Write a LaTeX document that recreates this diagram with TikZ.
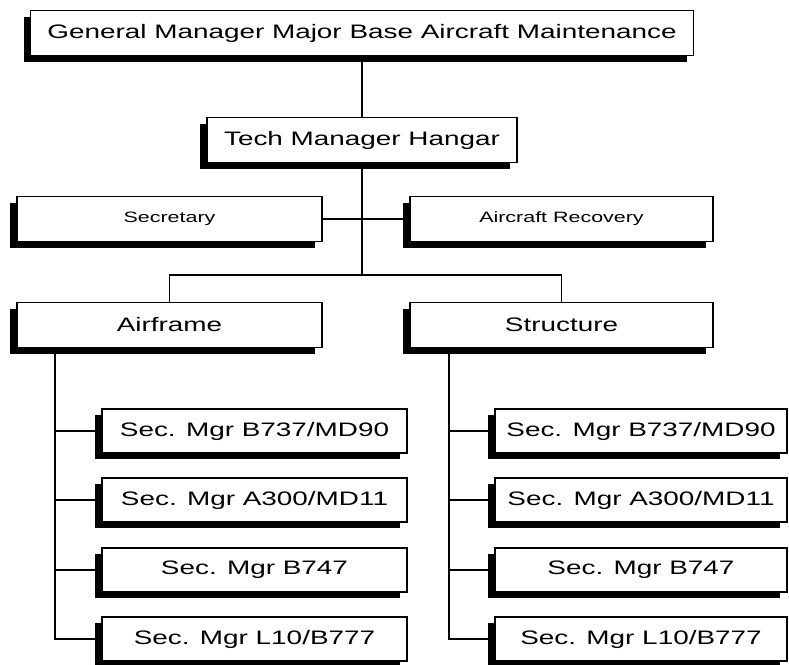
\documentclass[tikz,border=0pt]{standalone}
\usepackage{fontspec}
\setmainfont{Liberation Sans}[FakeStretch=1.43]
\usetikzlibrary{shadows,calc}

\begin{document}
\begin{tikzpicture}[x=1pt,y=-1pt,
  box/.style={draw,fill=white,line width=1.3pt,minimum height=45pt,inner sep=0pt,
    font=\fontsize{19.5}{22}\selectfont,
    drop shadow={shadow xshift=-7pt,shadow yshift=-6pt,opacity=1,fill=black}},
  smallbox/.style={box,font=\fontsize{15}{18}\selectfont},
  secbox/.style={box,minimum height=44pt},
  link/.style={line width=1.2pt}]
\useasboundingbox (0,0) rectangle (789,664);
\node[box,minimum width=663pt] (gm) at (362,33) {General Manager Major Base Aircraft Maintenance};
\node[box,minimum width=310pt] (tech) at (362,140) {Tech Manager Hangar};
\node[smallbox,minimum width=305pt] (sec) at (169.5,219) {Secretary};
\node[smallbox,minimum width=303pt] (rec) at (561.5,219) {Aircraft Recovery};
\node[box,minimum width=305pt] (air) at (169.5,325) {Airframe};
\node[box,minimum width=303pt] (str) at (561.5,325) {Structure};
\node[secbox,minimum width=305pt] (a1) at (254.5,431) {Sec. Mgr B737/MD90};
\node[secbox,minimum width=305pt] (a2) at (254.5,500) {Sec. Mgr A300/MD11};
\node[secbox,minimum width=305pt] (a3) at (254.5,570) {Sec. Mgr B747};
\node[secbox,minimum width=305pt] (a4) at (254.5,639) {Sec. Mgr L10/B777};
\node[secbox,minimum width=292pt] (s1) at (641,431) {Sec. Mgr B737/MD90};
\node[secbox,minimum width=292pt] (s2) at (641,500) {Sec. Mgr A300/MD11};
\node[secbox,minimum width=292pt] (s3) at (641,570) {Sec. Mgr B747};
\node[secbox,minimum width=292pt] (s4) at (641,639) {Sec. Mgr L10/B777};
\coordinate (split) at (362,275);
\coordinate (atrunk) at (55,347);
\coordinate (strunk) at (449,347);
\draw[link] (gm) -- (tech);
\draw[link] (sec) -- (rec);
\draw[link] (tech) -- (split);
\draw[link] (air) |- (split) -| (str);
\draw[link] (atrunk) |- (a4);
\draw[link] (atrunk |- a1) -- (a1);
\draw[link] (atrunk |- a2) -- (a2);
\draw[link] (atrunk |- a3) -- (a3);
\draw[link] (strunk) |- (s4);
\draw[link] (strunk |- s1) -- (s1);
\draw[link] (strunk |- s2) -- (s2);
\draw[link] (strunk |- s3) -- (s3);
\end{tikzpicture}
\end{document}
